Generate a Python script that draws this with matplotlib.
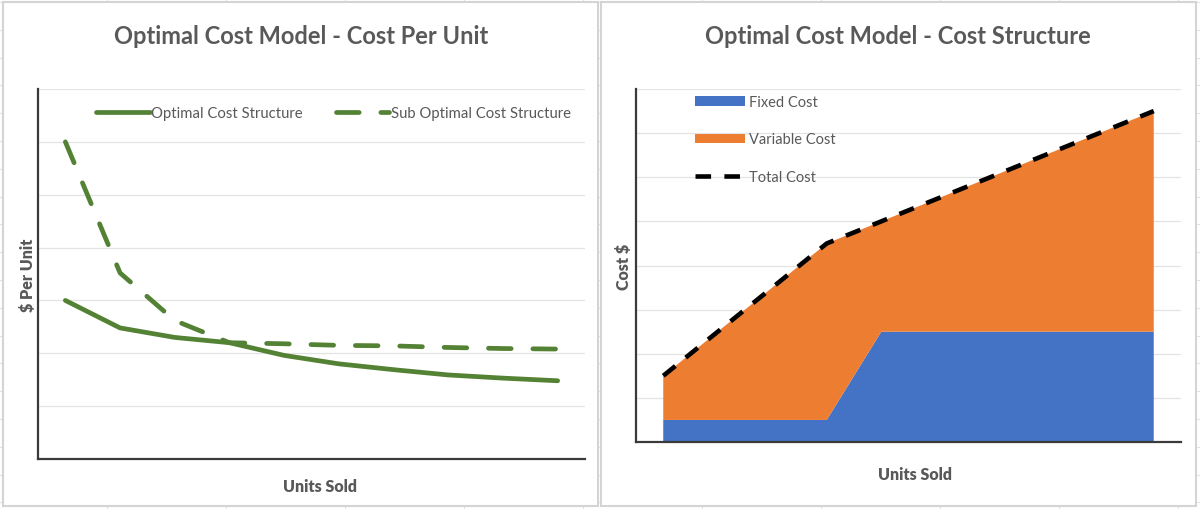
import numpy as np
import matplotlib
matplotlib.use("Agg")
import matplotlib.pyplot as plt
from matplotlib.lines import Line2D
from matplotlib.patches import Rectangle, Patch

plt.rcParams['font.family'] = ['Lato', 'DejaVu Sans']

# ---- data (gridline units) ----
units = np.arange(10)
optimal = [3.0, 2.48, 2.30, 2.20, 1.96, 1.80, 1.69, 1.59, 1.53, 1.48]
sub_optimal = [6.0, 3.52, 2.62, 2.20, 2.18, 2.15, 2.14, 2.11, 2.09, 2.08]

fixed_cost = [0.5, 0.5, 0.5, 0.5, 2.5, 2.5, 2.5, 2.5, 2.5, 2.5]
variable_cost = [1.0, 2.0, 3.0, 4.0, 2.5, 3.0, 3.5, 4.0, 4.5, 5.0]
total_cost = [f + v for f, v in zip(fixed_cost, variable_cost)]

W, H = 1200, 510
grey_txt = "#595959"
green = "#548235"
blue = "#4472C4"
orange = "#ED7D31"
grid_c = "#e3e3e3"
spine_c = "#3a3a3a"

fig = plt.figure(figsize=(W / 100, H / 100), dpi=100)
fig.patch.set_facecolor("white")


def fx(px):
    return px / W


def fy(py):
    return 1 - py / H


# spreadsheet cell lines behind the charts
for y in np.arange(3, H, 27.8):
    fig.add_artist(Line2D([0, 1], [fy(y), fy(y)], color="#e2e2e2", lw=0.8, zorder=0))
for x in np.arange(107, W, 119):
    fig.add_artist(Line2D([fx(x), fx(x)], [0, 1], color="#e2e2e2", lw=0.8, zorder=0))

# chart boxes
for x0, x1 in [(3, 598), (601, 1196)]:
    fig.add_artist(Rectangle((fx(x0), fy(507)), fx(x1 - x0), (507 - 3) / H,
                             facecolor="white", edgecolor="#d4d4d4", lw=1.5, zorder=1))


def style_axes(ax, ymax):
    ax.set_xlim(-0.5, 9.5)
    ax.set_ylim(0, ymax)
    ax.set_yticks(np.arange(1, ymax + 1))
    ax.set_xticks([])
    ax.tick_params(left=False, labelleft=False)
    ax.grid(axis="y", color=grid_c, lw=0.9)
    ax.set_axisbelow(True)
    for s in ["top", "right"]:
        ax.spines[s].set_visible(False)
    for s in ["left", "bottom"]:
        ax.spines[s].set_color(spine_c)
        ax.spines[s].set_linewidth(1.6)
    ax.patch.set_alpha(0)


# ---- left: cost per unit ----
ax1 = fig.add_axes([fx(38), fy(460), fx(585 - 38), (460 - 90) / H], zorder=2)
style_axes(ax1, 7)
ax1.plot(units, optimal, color=green, lw=3.4, solid_capstyle="round",
         label="Optimal Cost Structure")
ax1.plot(units, sub_optimal, color=green, lw=3.4, ls=(0, (4.8, 4.6)),
         dash_capstyle="round", label="Sub Optimal Cost Structure")
ax1.legend(loc="upper center", bbox_to_anchor=(0.54, 0.99), ncol=2, frameon=False,
           fontsize=10.7, labelcolor=grey_txt, handlelength=3.6, handletextpad=0.1,
           columnspacing=2.2)
ax1.set_ylabel("$ Per Unit", fontsize=11.5, fontweight="heavy", color=grey_txt, labelpad=1.5)
fig.text(fx(320), fy(487), "Units Sold", fontsize=11.5, fontweight="heavy",
         color=grey_txt, ha="center", va="center")
fig.text(fx(301), fy(37), "Optimal Cost Model - Cost Per Unit", fontsize=17,
         fontweight="bold", color=grey_txt, ha="center", va="center")

# ---- right: cost structure ----
ax2 = fig.add_axes([fx(636), fy(443), fx(1181 - 636), (443 - 90) / H], zorder=2)
style_axes(ax2, 8)
ax2.stackplot(units, fixed_cost, variable_cost, colors=[blue, orange],
              labels=["Fixed Cost", "Variable Cost"], lw=0)
ax2.plot(units, total_cost, color="black", lw=3.3, ls=(0, (3.4, 2.9)),
         label="Total Cost")
handles = [Patch(facecolor=blue, label="Fixed Cost"),
           Patch(facecolor=orange, label="Variable Cost"),
           Line2D([], [], color="black", lw=3.3, ls=(0, (3.4, 2.9)), label="Total Cost")]
ax2.legend(handles=handles, loc="upper left", bbox_to_anchor=(0.085, 1.02),
           frameon=False, fontsize=10.5, labelcolor=grey_txt, handlelength=3.4,
           handleheight=0.6, handletextpad=0.3, labelspacing=1.6)
ax2.set_ylabel("Cost $", fontsize=11.5, fontweight="heavy", color=grey_txt, labelpad=3)
fig.text(fx(915), fy(475), "Units Sold", fontsize=11.5, fontweight="heavy",
         color=grey_txt, ha="center", va="center")
fig.text(fx(898), fy(37), "Optimal Cost Model - Cost Structure", fontsize=17,
         fontweight="bold", color=grey_txt, ha="center", va="center")

fig.savefig("out.png", dpi=100)
